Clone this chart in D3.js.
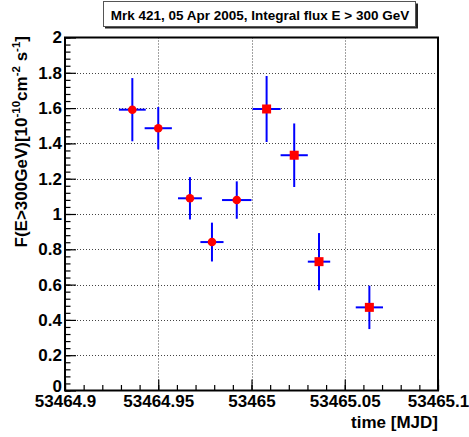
<!DOCTYPE html>
<html>
<head>
<meta charset="utf-8">
<script src="https://cdn.jsdelivr.net/npm/d3@7"></script>
<style>
  html, body { margin: 0; padding: 0; background: #fff; }
  svg { display: block; }
  text { font-family: "Liberation Sans", Arial, Helvetica, sans-serif; font-weight: bold; fill: #000; }
</style>
</head>
<body>
<svg id="chart" width="469" height="437"></svg>
<script>
// ---- data ----
const titleText = "Mrk 421, 05 Apr 2005, Integral flux E > 300 GeV";
const xTitle = "time [MJD]";
const xTicks = [53464.9, 53464.95, 53465, 53465.05, 53465.1];
const yTicks = [0, 0.2, 0.4, 0.6, 0.8, 1, 1.2, 1.4, 1.6, 1.8, 2];

// series A (circles)
const timeA    = [53464.9361, 53464.9500, 53464.9670, 53464.9788, 53464.9921];
const timeErrA = [0.0072, 0.0073, 0.0064, 0.0062, 0.0079];
const fluxA    = [1.591, 1.486, 1.089, 0.841, 1.079];
const fluxErrA = [0.179, 0.120, 0.120, 0.110, 0.106];

// series B (squares)
const timeB    = [53465.0081, 53465.0229, 53465.0362, 53465.0632];
const timeErrB = [0.0075, 0.0073, 0.0060, 0.0073];
const fluxB    = [1.595, 1.333, 0.730, 0.471];
const fluxErrB = [0.187, 0.180, 0.162, 0.123];

// ---- layout ----
const svg = d3.select("#chart");
const L = 65, R = 438, T = 37.5, B = 390.5;

const x = d3.scaleLinear().domain([53464.9, 53465.1]).range([L, R]);
const y = d3.scaleLinear().domain([0, 2]).range([B, T]);

const fmt = d => String(+(+d).toFixed(3));

// grid (dotted at major ticks, excluding frame edges)
const grid = svg.append("g").attr("stroke", "#444").attr("stroke-width", 1).attr("stroke-dasharray", "1,2");
grid.selectAll("line.gx").data(xTicks.slice(1, -1)).join("line")
  .attr("x1", d => Math.round(x(d)) + 0.5).attr("x2", d => Math.round(x(d)) + 0.5)
  .attr("y1", T).attr("y2", B);
grid.selectAll("line.gy").data(yTicks.slice(1, -1)).join("line")
  .attr("y1", d => Math.round(y(d)) + 0.5).attr("y2", d => Math.round(y(d)) + 0.5)
  .attr("x1", L).attr("x2", R);

// minor ticks
const xMinor = d3.range(0, 21).map(i => 53464.9 + i * 0.01);
const yMinor = d3.range(0, 51).map(i => i * 0.04);

const xAxisMinor = d3.axisBottom(x).tickValues(xMinor).tickSize(-5.5).tickFormat("");
const yAxisMinor = d3.axisLeft(y).tickValues(yMinor).tickSize(-5.5).tickFormat("");
const xAxis = d3.axisBottom(x).tickValues(xTicks).tickSize(-11).tickPadding(4.7).tickFormat(fmt);
const yAxis = d3.axisLeft(y).tickValues(yTicks).tickSize(-11).tickPadding(3).tickFormat(fmt);

function styleAxis(g) {
  g.select(".domain").remove();
  g.selectAll(".tick line").attr("stroke", "#000").attr("stroke-width", 1.2);
  g.selectAll(".tick text").style("font-size", "17px").style("font-weight", "bold")
    .style("font-family", '"Liberation Sans", Arial, sans-serif').attr("fill", "#000");
}
svg.append("g").attr("transform", `translate(0,${B})`).call(xAxisMinor).call(styleAxis);
svg.append("g").attr("transform", `translate(${L},0)`).call(yAxisMinor).call(styleAxis);
svg.append("g").attr("transform", `translate(0,${B})`).call(xAxis).call(styleAxis);
const yAxisG = svg.append("g").attr("transform", `translate(${L},0)`).call(yAxis).call(styleAxis);
// lift the "0" label slightly so it does not collide with the x labels
yAxisG.selectAll(".tick text").filter(d => d === 0).attr("dy", "0.05em");

// frame
svg.append("rect").attr("x", L).attr("y", T).attr("width", R - L).attr("height", B - T)
  .attr("fill", "none").attr("stroke", "#000").attr("stroke-width", 2);

// error bars + markers
function drawSeries(times, terr, flux, ferr, shape) {
  const data = times.map((t, i) => ({ t, te: terr[i], f: flux[i], fe: ferr[i] }));
  const g = svg.append("g");
  g.selectAll("line.h").data(data).join("line")
    .attr("x1", d => x(d.t - d.te)).attr("x2", d => x(d.t + d.te))
    .attr("y1", d => y(d.f)).attr("y2", d => y(d.f))
    .attr("stroke", "#0000ff").attr("stroke-width", 2);
  g.selectAll("line.v").data(data).join("line")
    .attr("x1", d => x(d.t)).attr("x2", d => x(d.t))
    .attr("y1", d => y(d.f - d.fe)).attr("y2", d => y(d.f + d.fe))
    .attr("stroke", "#0000ff").attr("stroke-width", 2);
  if (shape === "circle") {
    g.selectAll("circle").data(data).join("circle")
      .attr("cx", d => x(d.t)).attr("cy", d => y(d.f)).attr("r", 4.3)
      .attr("fill", "#ff0000");
  } else {
    const s = 9;
    g.selectAll("rect").data(data).join("rect")
      .attr("x", d => x(d.t) - s / 2).attr("y", d => y(d.f) - s / 2)
      .attr("width", s).attr("height", s).attr("fill", "#ff0000");
  }
}
drawSeries(timeA, timeErrA, fluxA, fluxErrA, "circle");
drawSeries(timeB, timeErrB, fluxB, fluxErrB, "square");

// x title
svg.append("text").attr("x", R).attr("y", 428).attr("text-anchor", "end")
  .style("font-size", "17px").text(xTitle);

// y title with superscripts
const yt = svg.append("text").attr("transform", "translate(27,36) rotate(-90)")
  .attr("text-anchor", "end").style("font-size", "17px");
yt.append("tspan").text("F(E>300GeV)[10");
yt.append("tspan").attr("dy", "-7").style("font-size", "11.5px").text("-10");
yt.append("tspan").attr("dy", "7").text("cm");
yt.append("tspan").attr("dy", "-7").style("font-size", "11.5px").text("-2");
yt.append("tspan").attr("dy", "7").text(" s");
yt.append("tspan").attr("dy", "-7").style("font-size", "11.5px").text("-1");
yt.append("tspan").attr("dy", "7").text("]");

// title box with shadow
svg.append("rect").attr("x", 105).attr("y", 3.5).attr("width", 313).attr("height", 25).attr("fill", "#222");
svg.append("rect").attr("x", 103.5).attr("y", 1.5).attr("width", 312).attr("height", 25)
  .attr("fill", "#fff").attr("stroke", "#555").attr("stroke-width", 1);
svg.append("text").attr("x", 260).attr("y", 19.5).attr("text-anchor", "middle")
  .style("font-size", "13.5px").text(titleText);
</script>
</body>
</html>
